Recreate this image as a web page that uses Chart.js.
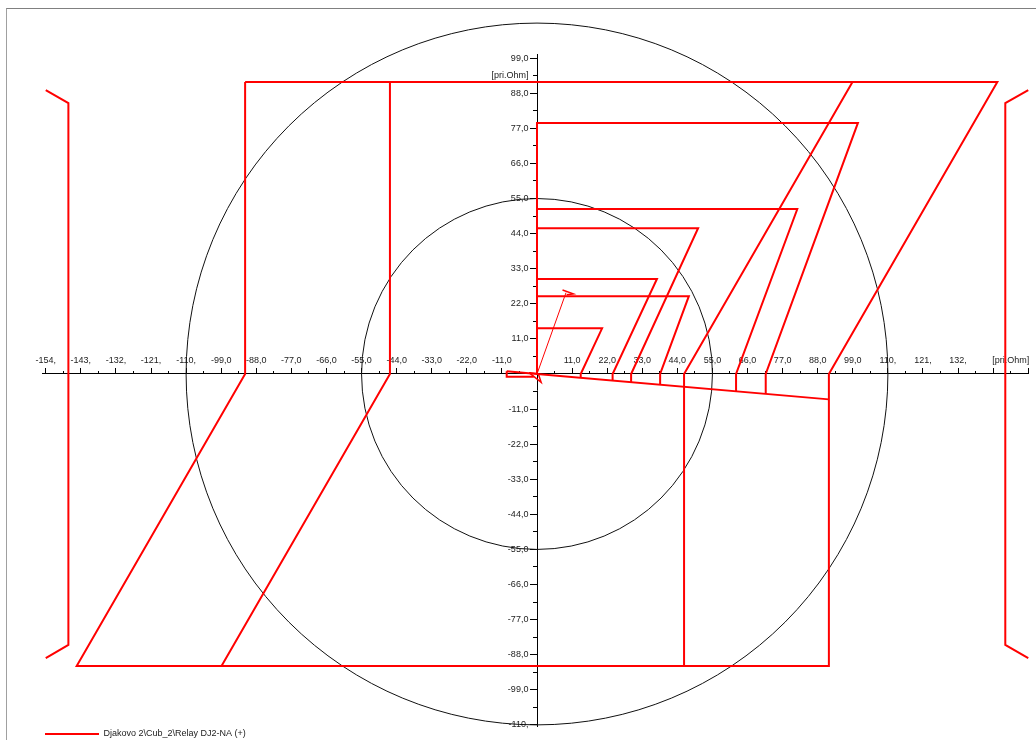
<!DOCTYPE html>
<html>
<head>
<meta charset="utf-8">
<script src="https://cdn.jsdelivr.net/npm/chart.js@4"></script>
<style>
  html, body { margin: 0; padding: 0; background: #fff; overflow: hidden; }
  #wrap { position: relative; width: 1036px; height: 740px; }
  #frame { position: absolute; left: 6px; top: 8px; width: 1100px; height: 800px;
           border-left: 1px solid #a0a0a0; border-top: 1px solid #808080; }
  #chartBox { position: absolute; left: 0; top: 0; width: 1036px; height: 740px; }
</style>
</head>
<body>
<div id="wrap">
  <div id="frame"></div>
  <div id="chartBox"><canvas id="c"></canvas></div>
</div>
<script>
// ---------- axis ticks (primary ohms) ----------
const xMajorTicks = [-154,-143,-132,-121,-110,-99,-88,-77,-66,-55,-44,-33,-22,-11,11,22,33,44,55,66,77,88,99,110,121,132,143,154];
const xMinorTicks = [-148.5,-137.5,-126.5,-115.5,-104.5,-93.5,-82.5,-71.5,-60.5,-49.5,-38.5,-27.5,-16.5,-5.5,5.5,16.5,27.5,38.5,49.5,60.5,71.5,82.5,93.5,104.5,115.5,126.5,137.5,148.5];
const xLabelTicks = [-154,-143,-132,-121,-110,-99,-88,-77,-66,-55,-44,-33,-22,-11,11,22,33,44,55,66,77,88,99,110,121,132,148.5];
const xTickLabels = ['-154,','-143,','-132,','-121,','-110,','-99,0','-88,0','-77,0','-66,0','-55,0','-44,0','-33,0','-22,0','-11,0','11,0','22,0','33,0','44,0','55,0','66,0','77,0','88,0','99,0','110,','121,','132,','[pri.Ohm]'];

const yMajorTicks = [99,88,77,66,55,44,33,22,11,-11,-22,-33,-44,-55,-66,-77,-88,-99,-110];
const yMinorTicks = [93.5,82.5,71.5,60.5,49.5,38.5,27.5,16.5,5.5,-5.5,-16.5,-27.5,-38.5,-49.5,-60.5,-71.5,-82.5,-93.5,-104.5];
const yLabelTicks = [99,93.5,88,77,66,55,44,33,22,11,-11,-22,-33,-44,-55,-66,-77,-88,-99,-110];
const yTickLabels = ['99,0','[pri.Ohm]','88,0','77,0','66,0','55,0','44,0','33,0','22,0','11,0','-11,0','-22,0','-33,0','-44,0','-55,0','-66,0','-77,0','-88,0','-99,0','-110,'];

// ---------- reference circles (radius, primary ohms) ----------
const circleRadii = [55, 110];

// ---------- relay characteristic vertices: R (x) and X (y) ----------
const polyA_R = [-91.5, 144.3, 91.5, 91.5, -144.3, -91.5, -91.5];
const polyA_X = [91.5, 91.5, 0, -91.5, -91.5, 0, 91.5];
const polyB_R = [-46.1, 98.9, 46.1, 46.1, -98.9, -46.1, -46.1];
const polyB_X = [91.5, 91.5, 0, -91.5, -91.5, 0, 91.5];

const zone1_R = [0, 0, 20.4, 13.7, 13.7];
const zone1_X = [0, 14.3, 14.3, 0, -1.2];
const zone2_R = [0, 0, 37.6, 23.7, 23.7];
const zone2_X = [0, 29.8, 29.8, 0, -2.06];
const zone3_R = [0, 0, 50.5, 29.5, 29.5];
const zone3_X = [0, 45.7, 45.7, 0, -2.57];
const zone4_R = [0, 0, 47.6, 38.6, 38.6];
const zone4_X = [0, 24.4, 24.4, 0, -3.36];
const zone5_R = [0, 0, 81.6, 62.4, 62.4];
const zone5_X = [0, 51.7, 51.7, 0, -5.43];
const zone6_R = [0, 0, 100.6, 71.7, 71.7];
const zone6_X = [0, 78.7, 78.7, 0, -6.24];

const dirLine_R = [-9.5, 0, 91.5];
const dirLine_X = [0.83, 0, -7.96];
const revBox_R = [-9.5, -9.5, -1.0];
const revBox_X = [0.83, -0.85, -0.9];

const limitL_R = [-154, -146.9, -146.9, -154];
const limitL_X = [89.0, 84.9, -84.9, -89.1];
const limitR_R = [154, 146.8, 146.8, 154];
const limitR_X = [89.0, 84.9, -84.9, -89.1];

const lineImp_R = [0, 9.1];
const lineImp_X = [0, 25.5];
const lineHead_R = [8.0, 11.4, 9.3];
const lineHead_X = [26.3, 25.1, 24.8];
const originMark_R = [-2.5, 1.3, 0.4, -2.5];
const originMark_X = [0.4, -2.6, 0.1, 0.4];

const seriesLabel = 'Djakovo 2\\Cub_2\\Relay DJ2-NA (+)';
const RED = '#ff0000';

function pts(rs, xs) { return rs.map((r, i) => ({ x: r, y: xs[i] })); }
function ds(label, rs, xs, width, extra) {
  return Object.assign({
    label: label, data: pts(rs, xs), showLine: true, borderColor: RED, backgroundColor: RED,
    borderWidth: width, pointRadius: 0, pointHoverRadius: 0, tension: 0, fill: false, clip: false,
    xAxisID: 'x', yAxisID: 'y'
  }, extra || {});
}

const datasets = [
  ds(seriesLabel, polyA_R, polyA_X, 2),
  ds('B', polyB_R, polyB_X, 2),
  ds('Z1', zone1_R, zone1_X, 2),
  ds('Z2', zone2_R, zone2_X, 2),
  ds('Z3', zone3_R, zone3_X, 2),
  ds('Z4', zone4_R, zone4_X, 2),
  ds('Z5', zone5_R, zone5_X, 2),
  ds('Z6', zone6_R, zone6_X, 2),
  ds('dir', dirLine_R, dirLine_X, 2),
  ds('rev', revBox_R, revBox_X, 2),
  ds('limL', limitL_R, limitL_X, 2),
  ds('limR', limitR_R, limitR_X, 2),
  ds('line', lineImp_R, lineImp_X, 1),
  ds('head', lineHead_R, lineHead_X, 1.5),
  ds('orig', originMark_R, originMark_X, 1.5, { fill: true })
];

const FONT = { family: "'Liberation Sans', Arial, sans-serif", size: 9 };
const TXT = '#222';

// legend swatch: a thin red line
const legendSwatch = document.createElement('canvas');
legendSwatch.width = 54; legendSwatch.height = 2;
(function () { const g = legendSwatch.getContext('2d'); g.fillStyle = RED; g.fillRect(0, 0, 54, 2); })();

function setTicks(arr) { return (s) => { s.ticks = arr.map(v => ({ value: v })); }; }
function zeroH(s) { s.height = 0; s.paddingLeft = 0; s.paddingRight = 0; s.paddingTop = 0; s.paddingBottom = 0; }
function zeroW(s) { s.width = 0; s.paddingLeft = 0; s.paddingRight = 0; s.paddingTop = 0; s.paddingBottom = 0; }

const X_MIN = -155, X_MAX = 154, Y_MIN = -110.5, Y_MAX = 100.3;

function tickScale(axis, pos, ticks, len, border) {
  return {
    type: 'linear', axis: axis, min: axis === 'x' ? X_MIN : Y_MIN, max: axis === 'x' ? X_MAX : Y_MAX,
    position: pos,
    afterBuildTicks: setTicks(ticks),
    afterFit: axis === 'x' ? zeroH : zeroW,
    border: { display: border, color: '#000', width: 1 },
    grid: { display: true, drawOnChartArea: false, drawTicks: true, tickLength: len, tickColor: '#000', tickWidth: 1 },
    ticks: { display: false }
  };
}
function labelScale(axis, pos, ticks, labels, padding) {
  return {
    type: 'linear', axis: axis, min: axis === 'x' ? X_MIN : Y_MIN, max: axis === 'x' ? X_MAX : Y_MAX,
    position: pos,
    afterBuildTicks: setTicks(ticks),
    afterFit: axis === 'x' ? zeroH : zeroW,
    border: { display: false },
    grid: { display: false, drawTicks: false },
    ticks: {
      display: true, autoSkip: false, maxRotation: 0, minRotation: 0, padding: padding,
      font: FONT, color: TXT,
      callback: (v) => { const i = ticks.indexOf(v); return i >= 0 ? labels[i] : ''; }
    }
  };
}

const circlesPlugin = {
  id: 'circles',
  beforeDatasetsDraw(chart) {
    const xs = chart.scales.x, ys = chart.scales.y, ctx = chart.ctx;
    const cx = xs.getPixelForValue(0), cy = ys.getPixelForValue(0);
    ctx.save();
    ctx.strokeStyle = '#111';
    ctx.lineWidth = 1;
    circleRadii.forEach(r => {
      const rp = xs.getPixelForValue(r) - cx;
      ctx.beginPath();
      ctx.arc(cx, cy, rp, 0, Math.PI * 2);
      ctx.stroke();
    });
    ctx.restore();
  }
};

new Chart(document.getElementById('c'), {
  type: 'scatter',
  data: { datasets: datasets },
  plugins: [circlesPlugin],
  options: {
    responsive: true, maintainAspectRatio: false, animation: false, events: [],
    layout: { padding: { left: 42.55, top: 54, right: 7.74, bottom: 0 } },
    scales: {
      x: tickScale('x', { y: 0 }, xMajorTicks, -6, true),
      xMinor: tickScale('x', { y: 0 }, xMinorTicks, -3, false),
      xLab: labelScale('x', { y: 0 }, xLabelTicks, xTickLabels, -18.4),
      y: tickScale('y', { x: 0 }, yMajorTicks, 7, true),
      yMinor: tickScale('y', { x: 0 }, yMinorTicks, 4, false),
      yLab: labelScale('y', { x: -2.7 }, yLabelTicks, yTickLabels, 0)
    },
    plugins: {
      tooltip: { enabled: false },
      title: { display: false },
      legend: {
        display: true, position: 'bottom', align: 'start', maxHeight: 13.5,
        labels: {
          usePointStyle: true, pointStyle: legendSwatch, pointStyleWidth: 54, padding: 2.5,
          font: FONT, color: TXT,
          filter: (item) => item.datasetIndex === 0
        }
      }
    }
  }
});
</script>
</body>
</html>
